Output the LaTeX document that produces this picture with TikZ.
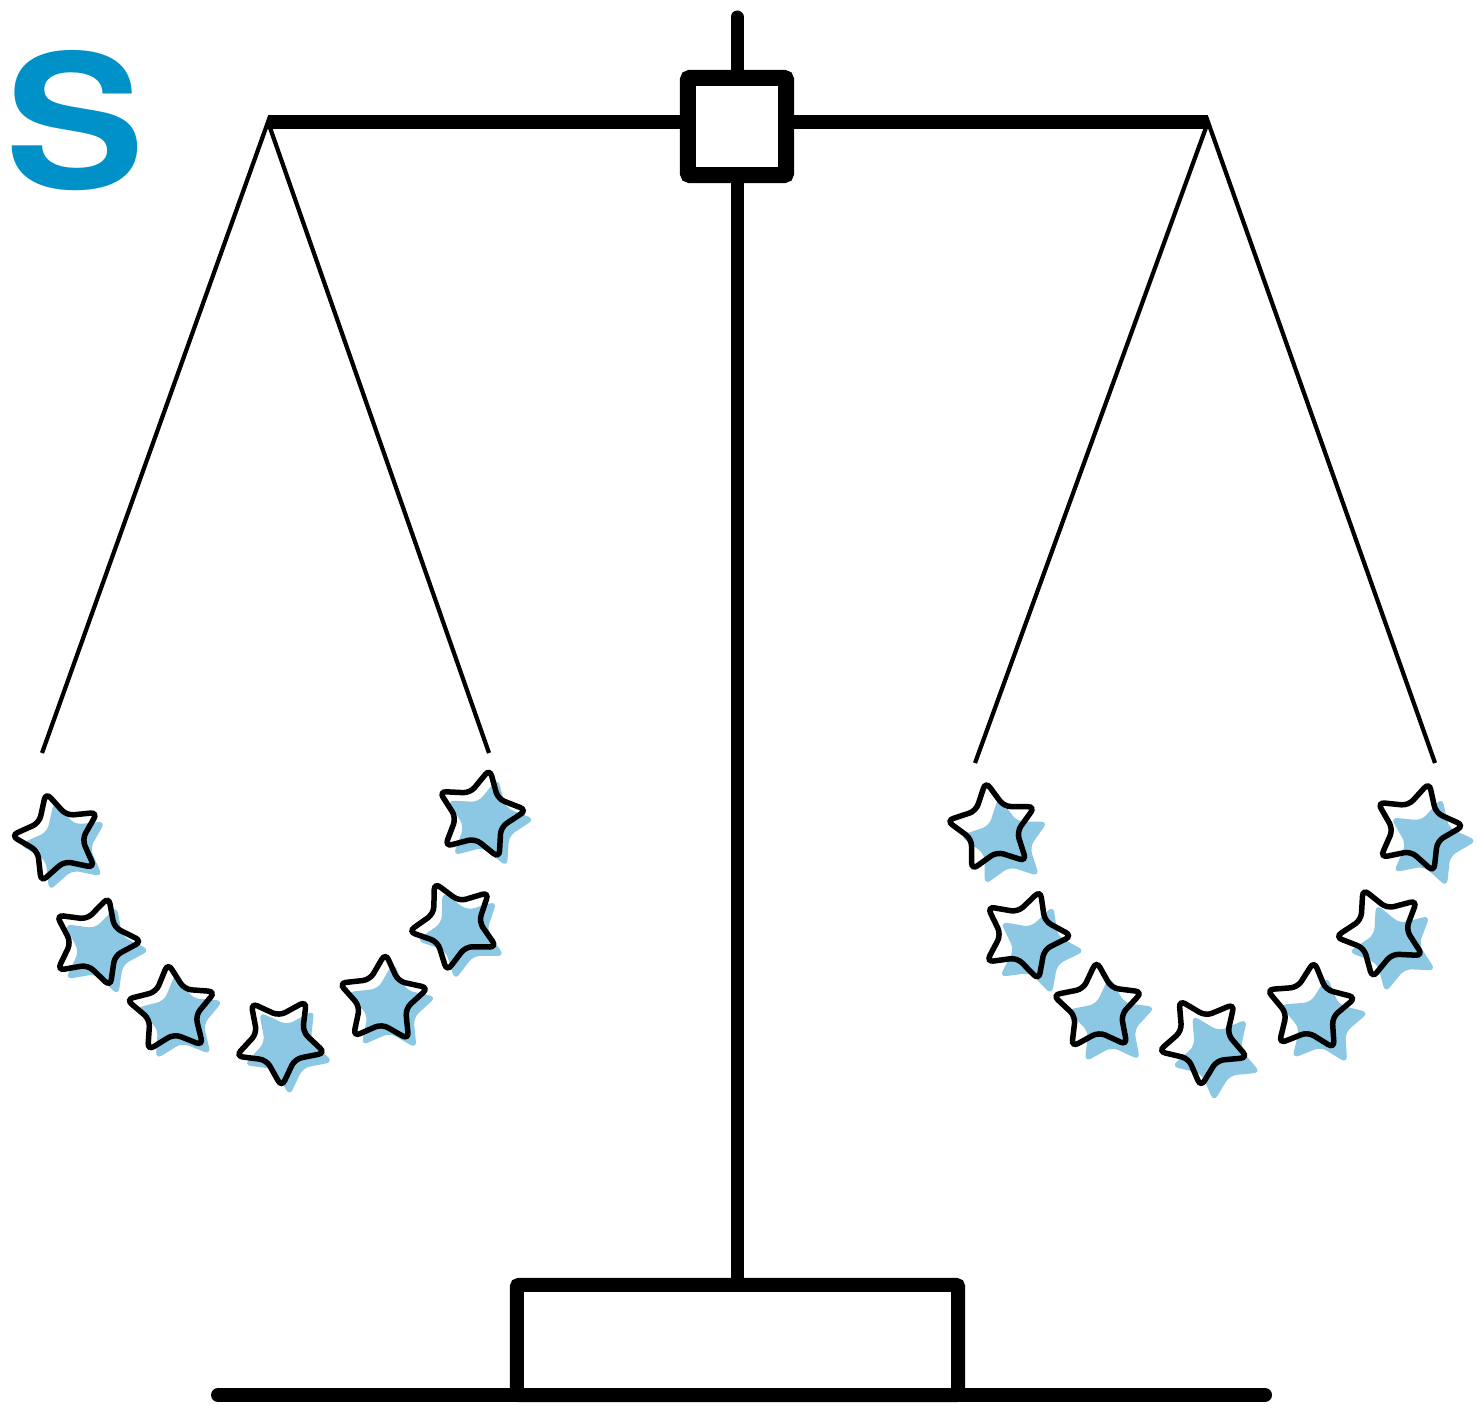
\documentclass[tikz,border=0pt]{standalone}
\usepackage{fontspec}
\newfontfamily\heros{TeX Gyre Heros}
\usetikzlibrary{shapes.geometric}
\definecolor{sblue}{RGB}{0,145,200}
\definecolor{starblue}{RGB}{140,200,228}
\begin{document}
\begin{tikzpicture}[x=0.01cm,y=-0.01cm,
  beamline/.style={line width=0.14cm},
  stringline/.style={line width=0.042cm},
  starbase/.style={star, star points=5, star point ratio=1.95, minimum size=0.94cm, inner sep=0pt, outer sep=0pt, rounded corners=0.07cm},
  bluestar/.style={starbase, fill=starblue},
  outlinestar/.style={starbase, draw=black, line width=0.055cm}]
\useasboundingbox (0,0) rectangle (1480,1404);
% letter
\node[text=sblue, font=\heros\bfseries\fontsize{53}{60}\selectfont, xscale=1.12, inner sep=0pt] (s) at (75,121) {S};
% coordinates
\coordinate (top) at (737,17);
\coordinate (bl) at (268,122);
\coordinate (br) at (1208,122);
\coordinate (la) at (42,753);
\coordinate (lb) at (489,753);
\coordinate (ra) at (975,763);
\coordinate (rb) at (1435,763);
% strings
\draw[stringline] (la) -- (bl) -- (lb);
\draw[stringline] (ra) -- (br) -- (rb);
% beam
\draw[beamline] (bl) -- (br);
% base
\node[draw, line width=0.14cm, minimum width=4.41cm, minimum height=1.10cm, inner sep=0pt, outer sep=0pt, rounded corners=0.02cm] (base) at (737.5,1340) {};
% pole
\draw[line width=0.13cm, line cap=round] (top) -- (top |- base.north);
% box
\node[draw, fill=white, line width=0.16cm, minimum width=0.98cm, minimum height=0.97cm, inner sep=0pt, outer sep=0pt, rounded corners=0.02cm] (box) at (737,126.5) {};
% ground
\coordinate (g1) at (218,1395);
\coordinate (g2) at (1265,1395);
\draw[line width=0.14cm, line cap=round] (g1) -- (g2);
% stars left
\foreach \x/\y/\r [count=\i] in {58/838/15, 95/942/-17, 172/1010/5, 280/1040/38, 383/1000/-3, 455/925/26, 480/815/-12}{
  \node[bluestar, rotate=\r] (lb\i) at (\x+8,\y+9) {};
  \node[outlinestar, rotate=\r] (ls\i) at (\x,\y) {};
}
% stars right
\foreach \x/\y/\r [count=\i] in {993/828/9, 1025/935/-19, 1098/1008/2, 1204/1040/32, 1310/1008/-5, 1382/932/24, 1417/828/-15}{
  \node[bluestar, rotate=\r] (rb\i) at (\x+13,\y+15) {};
  \node[outlinestar, rotate=\r] (rs\i) at (\x,\y) {};
}
\end{tikzpicture}
\end{document}
